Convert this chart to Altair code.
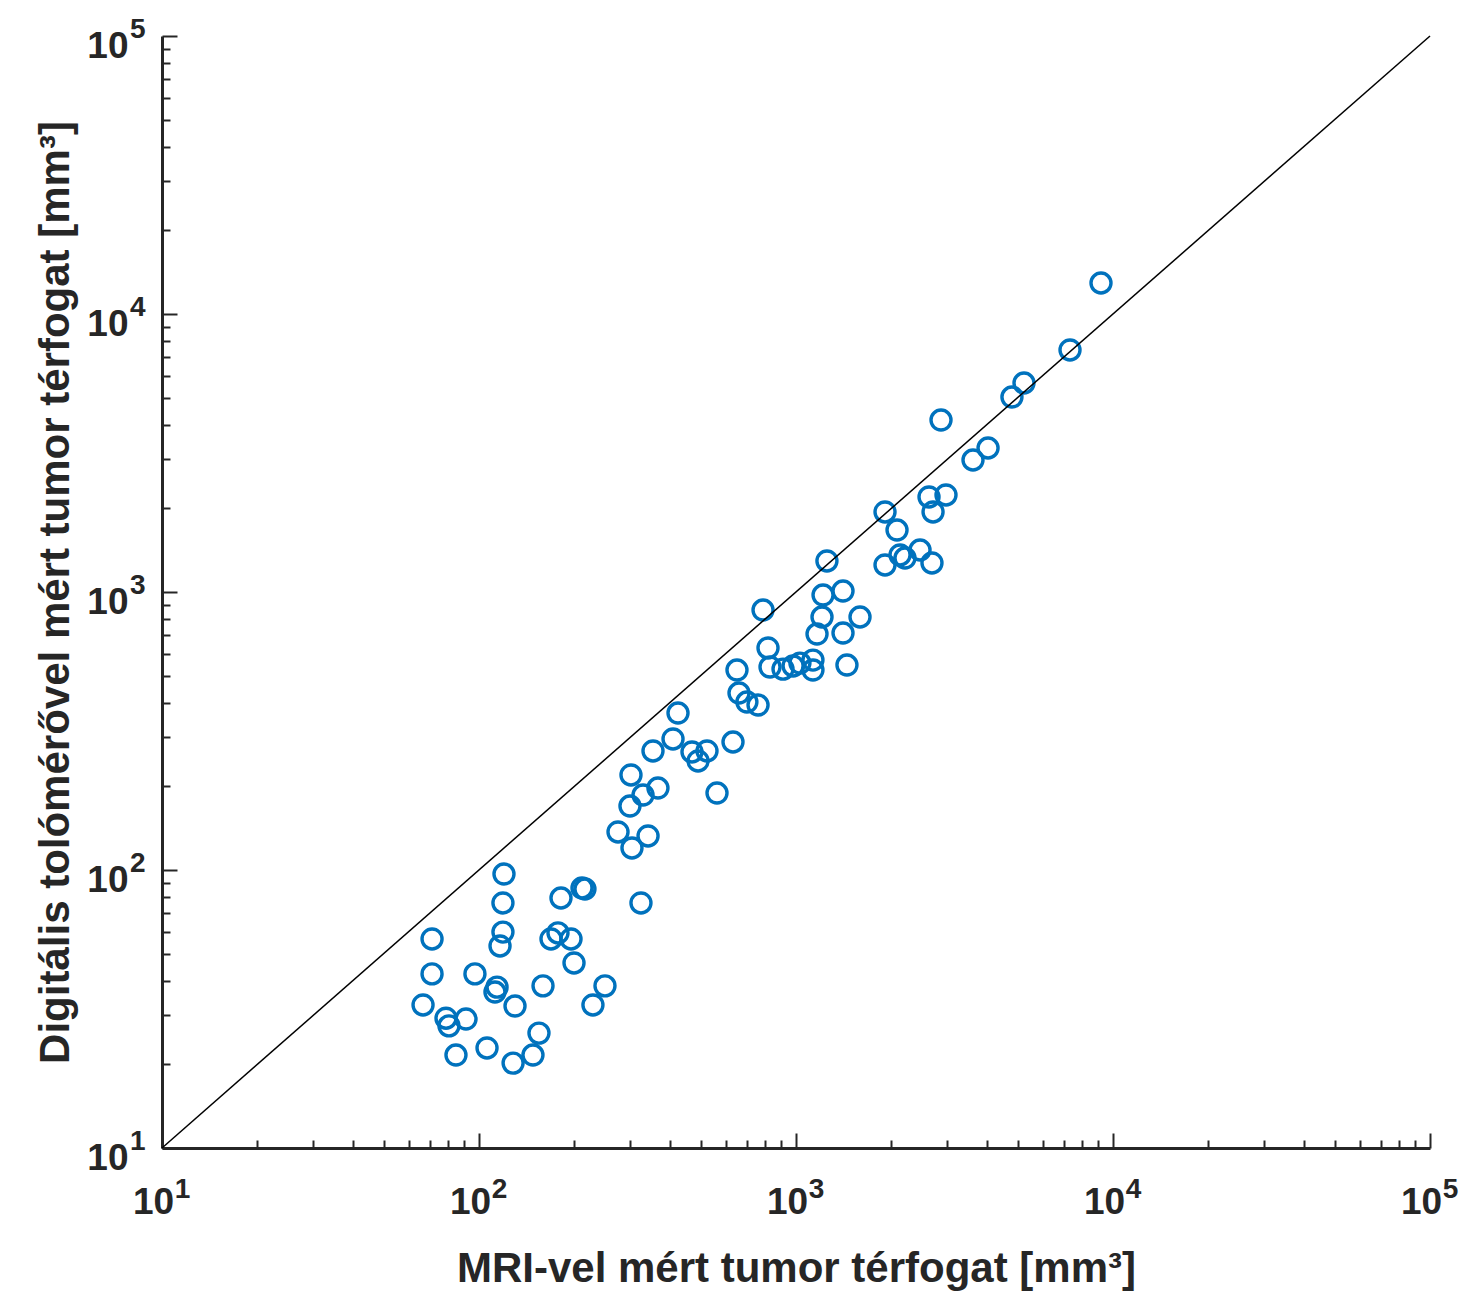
import altair as alt
import pandas as pd

# MRI-measured volume (x) and caliper-measured volume (y), mm^3
mri = [119.9, 119.0, 119.0, 116.5, 71.1, 71.1, 97.1, 114.0, 112.3, 129.9,
       66.6, 78.7, 91.0, 80.4, 84.6, 106.0, 128.1, 148.0, 154.6, 159.2,
       181.4, 211.3, 215.9, 168.7, 177.5, 195.1, 199.4, 249.7, 228.8, 324.3,
       424.4, 409.3, 353.9, 469.8, 523.9, 490.9, 632.8, 301.6, 366.9, 329.2,
       299.4, 563.4, 274.5, 341.4, 303.8, 1252, 1909, 787, 1217, 1407,
       1208, 1165, 1407, 1592, 816, 828, 910, 979, 1029, 1131,
       1131, 1448, 651.4, 661, 700, 759, 1909, 2083, 2628, 2973,
       2706, 2129, 2207, 2462, 2685, 2867, 3617, 4035, 4800, 5239,
       7318, 9165]
caliper = [96.7, 76.1, 59.8, 53.3, 56.5, 42.3, 42.3, 37.9, 36.4, 32.4,
           32.7, 29.3, 29.1, 27.5, 21.6, 22.9, 20.2, 21.6, 25.9, 38.3,
           79.3, 86.2, 85.4, 56.5, 59.4, 56.5, 46.3, 38.3, 32.7, 76.1,
           367, 296, 268, 265.8, 268, 246.7, 288.7, 219.7, 197.2, 186.1,
           169.9, 189.2, 137.0, 132.6, 120.0, 1293, 1251, 861, 975, 1008,
           813, 706, 712, 813, 629, 537, 528, 542, 555, 569,
           524, 546, 524, 433, 402, 392, 1941, 1671, 2197, 2234,
           1941, 1359, 1325, 1416, 1272, 4156, 2984, 3296, 5027, 5647,
           7423, 12928]

diag_x = [10, 100000]
diag_y = [10, 100000]

decades = [10, 100, 1000, 10000, 100000]
minor_ticks = [20, 30, 40, 50, 60, 70, 80, 90,
               200, 300, 400, 500, 600, 700, 800, 900,
               2000, 3000, 4000, 5000, 6000, 7000, 8000, 9000,
               20000, 30000, 40000, 50000, 60000, 70000, 80000, 90000]

x_title = "MRI-vel mért tumor térfogat [mm³]"
y_title = "Digitális tolómérővel mért tumor térfogat [mm³]"

pts = pd.DataFrame({"x": mri, "y": caliper})
diag = pd.DataFrame({"x": diag_x, "y": diag_y})

FONT = "Liberation Sans"
INK = "#262626"
W, H = 1268, 1112

xs = alt.Scale(type="log", domain=[10, 100000], nice=False)
ys = alt.Scale(type="log", domain=[10, 100000], nice=False)

common = dict(grid=False, labelFlush=False, labelOverlap=False, labelBound=False)

x_main = alt.Axis(orient="bottom", values=decades, labelExpr="'10'", ticks=False, tickSize=0,
                  domain=True, domainColor=INK, domainWidth=3,
                  labelFont=FONT, labelFontSize=37, labelFontWeight="bold", labelColor=INK,
                  labelBaseline="alphabetic", labelAlign="center", labelPadding=65, labelOffset=-9,
                  title=x_title, titleFont=FONT, titleFontSize=42, titleFontWeight="bold",
                  titleColor=INK, titleX=W / 2, titleY=133, titleBaseline="alphabetic",
                  titleAlign="center", **common)
y_main = alt.Axis(orient="left", values=decades, labelExpr="'10'", ticks=False, tickSize=0,
                  domain=True, domainColor=INK, domainWidth=3,
                  labelFont=FONT, labelFontSize=37, labelFontWeight="bold", labelColor=INK,
                  labelBaseline="alphabetic", labelAlign="right", labelPadding=34, labelOffset=21,
                  title=y_title, titleFont=FONT, titleFontSize=42, titleFontWeight="bold",
                  titleColor=INK, titleX=-94, titleY=H / 2, titleAngle=270,
                  titleBaseline="alphabetic", titleAlign="center", **common)

x_exp = alt.Axis(orient="bottom", values=decades, labelExpr="'' + round(log(datum.value) / LN10)",
                 ticks=False, tickSize=0, domain=False,
                 labelFont=FONT, labelFontSize=28, labelFontWeight="bold", labelColor=INK,
                 labelBaseline="alphabetic", labelAlign="center", labelPadding=49, labelOffset=20,
                 title=None, **common)
y_exp = alt.Axis(orient="left", values=decades, labelExpr="'' + round(log(datum.value) / LN10)",
                 ticks=False, tickSize=0, domain=False,
                 labelFont=FONT, labelFontSize=28, labelFontWeight="bold", labelColor=INK,
                 labelBaseline="alphabetic", labelAlign="right", labelPadding=17, labelOffset=1,
                 title=None, **common)


def tick_axis(orient, vals, size):
    return alt.Axis(orient=orient, values=vals, ticks=True, tickSize=size, tickWidth=2,
                    tickColor=INK, offset=-size, domain=False, labels=False, title=None,
                    **common)


points = alt.Chart(pts).mark_point(shape="circle", filled=False, size=400, strokeWidth=3.4,
                                   color="#0072BD", opacity=1).encode(
    x=alt.X("x:Q", scale=xs, axis=x_main),
    y=alt.Y("y:Q", scale=ys, axis=y_main),
)

line = alt.Chart(diag).mark_line(color="black", strokeWidth=1.5).encode(
    x=alt.X("x:Q", scale=xs, axis=x_exp),
    y=alt.Y("y:Q", scale=ys, axis=y_exp),
)

major = alt.Chart(diag).mark_line(strokeOpacity=0).encode(
    x=alt.X("x:Q", scale=xs, axis=tick_axis("bottom", decades, 15)),
    y=alt.Y("y:Q", scale=ys, axis=tick_axis("left", decades, 15)),
)

minor = alt.Chart(diag).mark_line(strokeOpacity=0).encode(
    x=alt.X("x:Q", scale=xs, axis=tick_axis("bottom", minor_ticks, 8)),
    y=alt.Y("y:Q", scale=ys, axis=tick_axis("left", minor_ticks, 8)),
)

chart = alt.layer(points, line, major, minor).resolve_axis(
    x="independent", y="independent"
).properties(
    width=W, height=H,
    autosize=alt.AutoSizeParams(type="none"),
    padding={"left": 162, "top": 36, "right": 33, "bottom": 143},
    background="white",
).configure_view(stroke=None)

chart.save("out.html", embed_options={"renderer": "svg", "actions": False})
